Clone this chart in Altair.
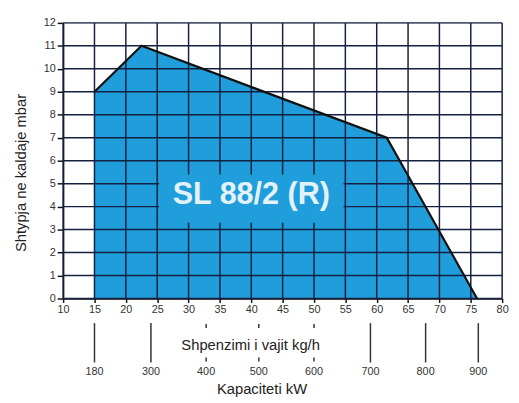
import altair as alt
import pandas as pd

# Envelope of the working field (kg/h, mbar)
env_x = [15, 22.5, 61.6, 76]
env_y = [9, 11, 7, 0]

x_ticks = list(range(10, 85, 5))
y_ticks = list(range(0, 13))

# Secondary scale: capacity in kW, positioned on the kg/h axis
kw_labels = [180, 300, 400, 500, 600, 700, 800, 900]
kw_pos = [15, 24, 32.8, 41.2, 50, 59, 67.8, 76.2]
kw_long = [True, True, False, False, False, True, True, True]

# blank patch in the grid behind the model name
label_box_x = [25.3, 54.7]
label_box_y = [3.3, 5.4]
model_name = ["SL 88/2 (R)"]
model_x = [40]
model_y = [4.5]

FONT = "Liberation Sans"
AREA = "#1f9edb"
GRID = "#142040"

xs = alt.Scale(domain=[10, 80], nice=False, zero=False)
ys = alt.Scale(domain=[0, 12], nice=False)

xaxis = alt.Axis(
    values=x_ticks, grid=False, title="Shpenzimi i vajit kg/h",
    domainColor="#111", domainWidth=1.5, tickColor="#111", tickWidth=1.5,
    tickSize=4, labelFontSize=11, labelColor="#333", labelFont=FONT,
    labelPadding=1, labelFlush=False,
    titleFont=FONT, titleFontSize=15, titleFontWeight="normal", titleColor="#222",
    titleX=190, titleY=52, titleAlign="center", titleBaseline="alphabetic",
)
yaxis = alt.Axis(
    values=y_ticks, grid=False, title="Shtypja ne kaldaje mbar",
    domainColor="#111", domainWidth=1.5, tickColor="#111", tickWidth=1.5,
    tickSize=6, labelFontSize=11, labelColor="#333", labelFont=FONT,
    labelPadding=2, labelFlush=False,
    titleFont=FONT, titleFontSize=15, titleFontWeight="normal", titleColor="#222",
    titleX=-43, titleY=152, titleAngle=270, titleAlign="center", titleBaseline="middle",
)


def X(f="x:Q"):
    return alt.X(f, scale=xs, axis=xaxis)


def Y(f="y:Q"):
    return alt.Y(f, scale=ys, axis=yaxis)


env = pd.DataFrame({"x": env_x, "y": env_y})
area = alt.Chart(env).mark_area(color=AREA, opacity=1).encode(x=X(), y=Y())

vgrid = alt.Chart(pd.DataFrame({"x": x_ticks})).mark_rule(
    color=GRID, strokeWidth=1.5).encode(x=X())
hgrid = alt.Chart(pd.DataFrame({"y": y_ticks})).mark_rule(
    color=GRID, strokeWidth=1.5).encode(y=Y())

box_df = pd.DataFrame({"x": [label_box_x[0]], "x2": [label_box_x[1]],
                       "y": [label_box_y[0]], "y2": [label_box_y[1]]})
box = alt.Chart(box_df).mark_rect(color=AREA, opacity=1).encode(
    x=X(), x2="x2:Q", y=Y(), y2="y2:Q")

outline = alt.Chart(env).mark_line(color="#111", strokeWidth=2.2).encode(
    x=X(), y=Y())

model = alt.Chart(pd.DataFrame({"x": model_x, "y": model_y, "t": model_name})).mark_text(
    font=FONT, fontSize=31, fontWeight="bold", color="#e3f2f9", baseline="middle"
).encode(x=X(), y=Y(), text="t:N")

kw_df = pd.DataFrame({"x": kw_pos, "kw": kw_labels, "long": kw_long})
long_ticks = alt.Chart(kw_df[kw_df["long"]]).mark_rule(color="#333", strokeWidth=1.5).encode(
    x=X(), y=alt.value(305), y2=alt.value(345))
short_top = alt.Chart(kw_df[~kw_df["long"]]).mark_rule(color="#333", strokeWidth=1.5).encode(
    x=X(), y=alt.value(306), y2=alt.value(310))
short_bot = alt.Chart(kw_df[~kw_df["long"]]).mark_rule(color="#333", strokeWidth=1.5).encode(
    x=X(), y=alt.value(340), y2=alt.value(344))
kw_text = alt.Chart(kw_df).mark_text(
    font=FONT, fontSize=11, color="#333", baseline="middle"
).encode(x=X(), y=alt.value(355), text="kw:Q")

kw_title = alt.Chart(pd.DataFrame({"t": ["Kapaciteti kW"]})).mark_text(
    font=FONT, fontSize=15, color="#222", baseline="middle"
).encode(x=alt.value(202), y=alt.value(372), text="t:N")

chart = alt.layer(
    area, vgrid, hgrid, box, outline, model,
    long_ticks, short_top, short_bot, kw_text, kw_title,
).properties(
    width=446, height=280,
    autosize=alt.AutoSizeParams(type="none"),
    padding={"left": 56, "top": 12, "right": 9, "bottom": 100},
)

chart.save("out.html", embed_options={"renderer": "svg", "actions": False})
